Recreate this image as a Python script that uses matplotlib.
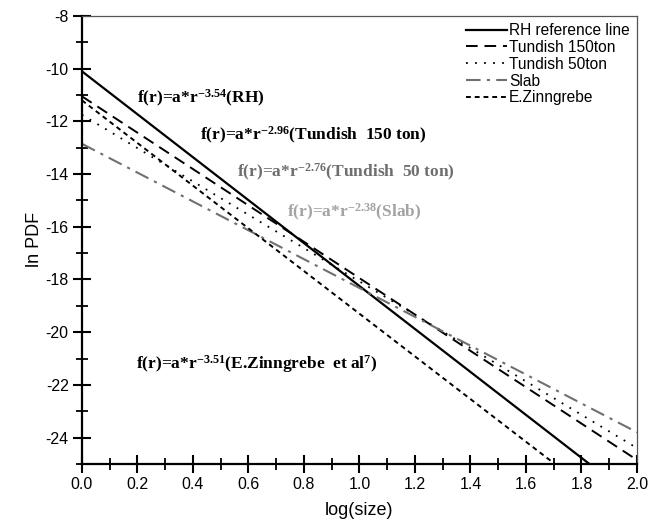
import matplotlib
matplotlib.use('Agg')
import matplotlib.pyplot as plt
from matplotlib.ticker import MultipleLocator, FormatStrFormatter

plt.rcParams['font.family'] = ['Liberation Sans', 'DejaVu Sans']
plt.rcParams['axes.unicode_minus'] = False
plt.rcParams['mathtext.fontset'] = 'custom'
plt.rcParams['mathtext.rm'] = 'Liberation Serif:bold'
plt.rcParams['mathtext.it'] = 'Liberation Serif:bold'
plt.rcParams['mathtext.bf'] = 'Liberation Serif:bold'

# fitted lines, end points
x_ends = [0.0, 2.0]
rh_y = [-10.1, -26.4]
tundish150_y = [-11.05, -24.85]
tundish50_y = [-11.75, -24.4]
slab_y = [-12.85, -23.8]
zinngrebe_y = [-11.2, -27.4]

series_names = ['RH reference line', 'Tundish 150ton', 'Tundish 50ton',
                'Slab', 'E.Zinngrebe']

fig = plt.figure(figsize=(6.5, 5.32), dpi=100)
ax = fig.add_axes([0.126, 0.128, 0.854, 0.842])

ax.plot(x_ends, rh_y, color='black', lw=1.6, ls='-', label=series_names[0])
ax.plot(x_ends, tundish150_y, color='black', lw=1.4, ls=(0, (6, 3.5)),
        label=series_names[1])
ax.plot(x_ends, tundish50_y, color='black', lw=1.3, ls=(0, (1, 4)),
        label=series_names[2])
ax.plot(x_ends, slab_y, color='#707070', lw=1.5, ls=(0, (7, 3, 1.5, 3)),
        label=series_names[3])
ax.plot(x_ends, zinngrebe_y, color='black', lw=1.4, ls=(0, (2.5, 2)),
        label=series_names[4])

ax.set_xlim(0, 2.0)
ax.set_ylim(-25, -8)
ax.xaxis.set_major_locator(MultipleLocator(0.2))
ax.xaxis.set_minor_locator(MultipleLocator(0.1))
ax.yaxis.set_major_locator(MultipleLocator(2))
ax.yaxis.set_minor_locator(MultipleLocator(1))
ax.xaxis.set_major_formatter(FormatStrFormatter('%.1f'))
ax.yaxis.set_major_formatter(FormatStrFormatter('%d'))
ax.tick_params(which='major', direction='inout', length=13, width=1.5,
               labelsize=11.5, top=False, right=False, pad=3)
ax.tick_params(which='minor', direction='inout', length=8, width=1.3,
               top=False, right=False)
for s in ['left', 'bottom']:
    ax.spines[s].set_linewidth(1.6)
for s in ['top', 'right']:
    ax.spines[s].set_linewidth(0.9)
    ax.spines[s].set_color('#555555')

ax.set_xlabel('log(size)', fontsize=13, labelpad=7)
ax.set_ylabel('ln PDF', fontsize=13, labelpad=2)

leg = ax.legend(loc='upper right', frameon=False, fontsize=11.2,
                handlelength=2.6, handletextpad=0.15, labelspacing=0.12,
                borderaxespad=0.15, borderpad=0.3)

tfs = 12.5
ax.text(0.198, -11.12, r'f(r)=a*r$^{-3.54}$(RH)', fontsize=tfs,
        fontweight='bold', family='Liberation Serif', color='black',
        va='center')
ax.text(0.425, -12.52, r'f(r)=a*r$^{-2.96}$(Tundish  150 ton)', fontsize=tfs,
        fontweight='bold', family='Liberation Serif', color='black',
        va='center')
ax.text(0.56, -13.92, r'f(r)=a*r$^{-2.76}$(Tundish  50 ton)', fontsize=tfs,
        fontweight='bold', family='Liberation Serif', color='#6e6e6e',
        va='center')
ax.text(0.74, -15.44, r'f(r)=a*r$^{-2.38}$(Slab)', fontsize=tfs,
        fontweight='bold', family='Liberation Serif', color='#a3a3a3',
        va='center')
ax.text(0.195, -21.2, r'f(r)=a*r$^{-3.51}$(E.Zinngrebe  et al$^{7}$)',
        fontsize=tfs, fontweight='bold', family='Liberation Serif',
        color='black', va='center')

fig.savefig('out.png', dpi=100)
